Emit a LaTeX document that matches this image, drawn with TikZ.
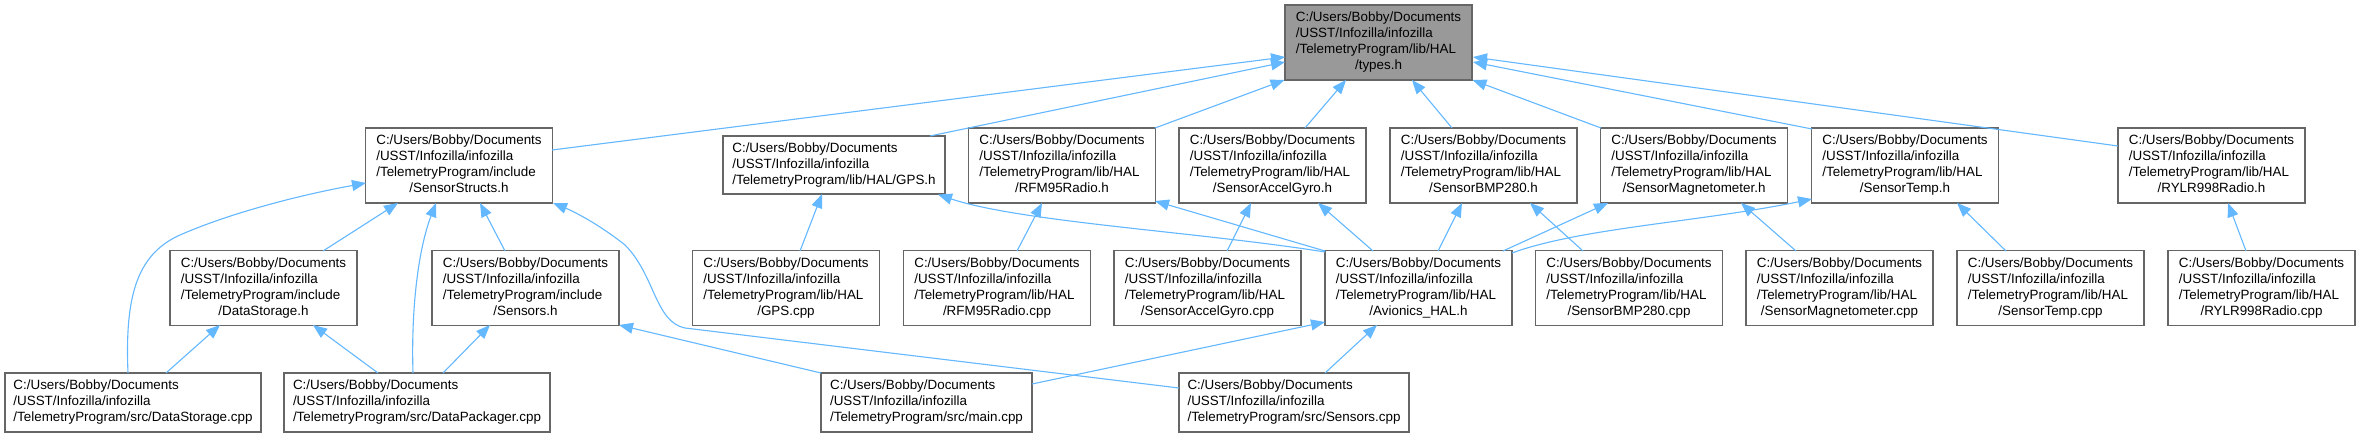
\documentclass[tikz,border=0pt]{standalone}
\usepackage{fontspec}
\setmainfont{Liberation Sans}
\usetikzlibrary{arrows.meta}
\definecolor{edgeblue}{HTML}{63B8FF}
\definecolor{boxgray}{HTML}{666666}
\definecolor{rootfill}{HTML}{999999}
\newcommand{\hdr}[2]{\begin{tabular}{@{}l@{}}C:/Users/Bobby/Documents\\/USST/Infozilla/infozilla\\/TelemetryProgram/#1\\\multicolumn{1}{@{}c@{}}{#2}\end{tabular}}
\newcommand{\thr}[1]{\begin{tabular}{@{}l@{}}C:/Users/Bobby/Documents\\/USST/Infozilla/infozilla\\/TelemetryProgram/#1\end{tabular}}
\begin{document}
\begin{tikzpicture}[x=1pt,y=-1pt,
  box/.style={draw=boxgray, line width=1.3pt, fill=white, inner sep=0pt,
    minimum width=187pt, minimum height=75pt, font=\fontsize{13.4}{16}\selectfont},
  root/.style={box, fill=rootfill},
  low/.style={box, minimum height=59pt},
  edge/.style={draw=edgeblue, line width=1.1pt, -{Triangle[length=14pt,width=11pt]}}]
\path[use as bounding box, fill=white] (0,0) rectangle (2360,437);
% rank 1
\node[root] (T) at (1378.5,42.5) {\hdr{lib/HAL}{/types.h}};
% rank 2
\node[box] (SS) at (459,165.5) {\hdr{include}{/SensorStructs.h}};
\node[box, minimum width=222pt, minimum height=58pt] (GPSh) at (834,165) {\thr{lib/HAL/GPS.h}};
\node[box] (RFMh) at (1062,165.5) {\hdr{lib/HAL}{/RFM95Radio.h}};
\node[box] (AGh) at (1272.5,165.5) {\hdr{lib/HAL}{/SensorAccelGyro.h}};
\node[box] (BMPh) at (1483.5,165.5) {\hdr{lib/HAL}{/SensorBMP280.h}};
\node[box] (MAGh) at (1694,165.5) {\hdr{lib/HAL}{/SensorMagnetometer.h}};
\node[box] (TEMPh) at (1905,165.5) {\hdr{lib/HAL}{/SensorTemp.h}};
\node[box] (RYLRh) at (2211.5,165.5) {\hdr{lib/HAL}{/RYLR998Radio.h}};
% rank 3
\node[box] (DSh) at (263.5,288) {\hdr{include}{/DataStorage.h}};
\node[box] (SNh) at (525.5,288) {\hdr{include}{/Sensors.h}};
\node[box] (GPSc) at (786,288) {\hdr{lib/HAL}{/GPS.cpp}};
\node[box] (RFMc) at (997,288) {\hdr{lib/HAL}{/RFM95Radio.cpp}};
\node[box] (AGc) at (1207.5,288) {\hdr{lib/HAL}{/SensorAccelGyro.cpp}};
\node[box] (AV) at (1418.5,288) {\hdr{lib/HAL}{/Avionics\_HAL.h}};
\node[box] (BMPc) at (1629,288) {\hdr{lib/HAL}{/SensorBMP280.cpp}};
\node[box] (MAGc) at (1839.5,288) {\hdr{lib/HAL}{/SensorMagnetometer.cpp}};
\node[box] (TEMPc) at (2050.5,288) {\hdr{lib/HAL}{/SensorTemp.cpp}};
\node[box] (RYLRc) at (2261.5,288) {\hdr{lib/HAL}{/RYLR998Radio.cpp}};
% rank 4
\node[low, minimum width=256pt] (DSc) at (133,402.5) {\thr{src/DataStorage.cpp}};
\node[low, minimum width=266pt] (DPc) at (417,402.5) {\thr{src/DataPackager.cpp}};
\node[low, minimum width=211pt] (MAINc) at (926.5,402.5) {\thr{src/main.cpp}};
\node[low, minimum width=230pt] (SNc) at (1294,402.5) {\thr{src/Sensors.cpp}};
% edges to types.h
\draw[edge] ([shift={(93,-15.5)}]SS.center) -- ([shift={(-93.5,14.5)}]T.center);
\draw[edge] ([shift={(96,-29)}]GPSh.center) -- ([shift={(-93.5,19.5)}]T.center);
\draw[edge] ([shift={(93,-37.5)}]RFMh.center) -- ([shift={(-94,37.5)}]T.center);
\draw[edge] ([shift={(32.5,-37.5)}]AGh.center) -- ([shift={(-32.5,37.5)}]T.center);
\draw[edge] ([shift={(-31.5,-37.5)}]BMPh.center) -- ([shift={(33.5,37.5)}]T.center);
\draw[edge] ([shift={(-93,-37.5)}]MAGh.center) -- ([shift={(94,37.5)}]T.center);
\draw[edge] ([shift={(-93,-36.5)}]TEMPh.center) -- ([shift={(94.5,19.5)}]T.center);
\draw[edge] ([shift={(-93.5,-19.5)}]RYLRh.center) -- ([shift={(94.5,14.5)}]T.center);
% rank 3 -> rank 2
\draw[edge] ([shift={(59.5,-37)}]DSh.center) -- ([shift={(-61,37.5)}]SS.center);
\draw[edge] ([shift={(-20.5,-37)}]SNh.center) -- ([shift={(21,37.5)}]SS.center);
\draw[edge] ([shift={(14,-37)}]GPSc.center) -- ([shift={(-12,29)}]GPSh.center);
\draw[edge] ([shift={(20,-37)}]RFMc.center) -- ([shift={(-20,37.5)}]RFMh.center);
\draw[edge] ([shift={(19.5,-37)}]AGc.center) -- ([shift={(-21.5,37.5)}]AGh.center);
\draw[edge] ([shift={(-45.5,-37)}]AV.center) -- ([shift={(45.5,37.5)}]AGh.center);
\draw[edge] ([shift={(19.5,-37)}]AV.center) -- ([shift={(-21.5,37.5)}]BMPh.center);
\draw[edge] ([shift={(84.5,-37)}]AV.center) -- ([shift={(-86,37.5)}]MAGh.center);
\draw[edge] ([shift={(93.5,-35)}]AV.center) .. controls (1580,228) and (1700,222) .. ([shift={(-93,33.5)}]TEMPh.center);
\draw[edge] ([shift={(-46,-37)}]BMPc.center) -- ([shift={(46.5,37.5)}]BMPh.center);
\draw[edge] ([shift={(-43.5,-37)}]MAGc.center) -- ([shift={(47,37.5)}]MAGh.center);
\draw[edge] ([shift={(-44.5,-37)}]TEMPc.center) -- ([shift={(52,37.5)}]TEMPh.center);
\draw[edge] ([shift={(-15.5,-37)}]RYLRc.center) -- ([shift={(16.5,37.5)}]RYLRh.center);
\draw[edge] ([shift={(-93.5,-36)}]AV.center) .. controls (1200,232) and (1020,222) .. ([shift={(104,29.5)}]GPSh.center);
\draw[edge] ([shift={(-93.5,-37)}]AV.center) -- ([shift={(93,35.5)}]RFMh.center);
% rank 4 edges
\draw[edge] ([shift={(33,-29.5)}]DSc.center) -- ([shift={(-43.5,37)}]DSh.center);
\draw[edge] ([shift={(-39,-29.5)}]DPc.center) -- ([shift={(49.5,37)}]DSh.center);
\draw[edge] ([shift={(26,-29.5)}]DPc.center) -- ([shift={(-35.5,37)}]SNh.center);
\draw[edge] ([shift={(-4,-29.5)}]DPc.center) .. controls (411,310) and (418,250) .. ([shift={(-23,37.5)}]SS.center);
\draw[edge] ([shift={(-5,-29.5)}]DSc.center) .. controls (125,300) and (135,255) .. (180,235) .. controls (230,213) and (300,195) .. ([shift={(-93,17.5)}]SS.center);
\draw[edge] ([shift={(-115,-14.5)}]SNc.center) -- (685,328) .. controls (655,322) and (655,275) .. (625,245) .. controls (600,225) and (575,212) .. ([shift={(94,37.5)}]SS.center);
\draw[edge] ([shift={(-105.5,-29.5)}]MAINc.center) -- ([shift={(93.5,37)}]SNh.center);
\draw[edge] ([shift={(105.5,-18.5)}]MAINc.center) -- ([shift={(-93.5,34)}]AV.center);
\draw[edge] ([shift={(31,-29.5)}]SNc.center) -- ([shift={(-41.5,37)}]AV.center);
\end{tikzpicture}
\end{document}
